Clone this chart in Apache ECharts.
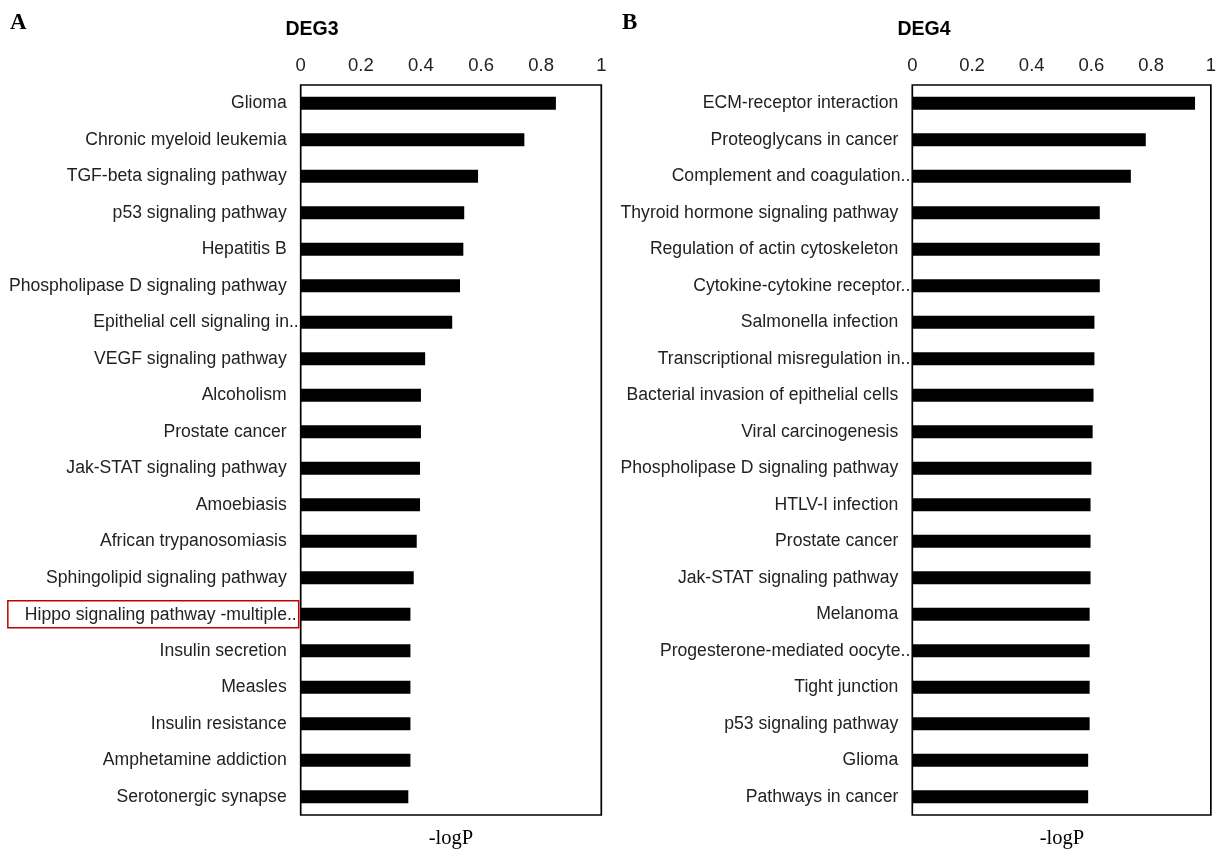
<!DOCTYPE html>
<html>
<head>
<meta charset="utf-8">
<script src="https://cdn.jsdelivr.net/npm/echarts@6/dist/echarts.min.js"></script>
<style>
  html, body { margin: 0; padding: 0; background: #fff; }
  #chart { width: 1219px; height: 853px; }
</style>
</head>
<body>
<div id="chart"></div>
<script>
// KEGG pathway enrichment, -logP per pathway
const catsA = ['Glioma', 'Chronic myeloid leukemia', 'TGF-beta signaling pathway', 'p53 signaling pathway',
  'Hepatitis B', 'Phospholipase D signaling pathway', 'Epithelial cell signaling in..', 'VEGF signaling pathway',
  'Alcoholism', 'Prostate cancer', 'Jak-STAT signaling pathway', 'Amoebiasis', 'African trypanosomiasis',
  'Sphingolipid signaling pathway', 'Hippo signaling pathway -multiple..', 'Insulin secretion', 'Measles',
  'Insulin resistance', 'Amphetamine addiction', 'Serotonergic synapse'];
const valsA = [0.849, 0.744, 0.590, 0.544, 0.541, 0.530, 0.504, 0.414, 0.400, 0.400,
  0.397, 0.397, 0.386, 0.376, 0.365, 0.365, 0.365, 0.365, 0.365, 0.358];

const catsB = ['ECM-receptor interaction', 'Proteoglycans in cancer', 'Complement and coagulation..',
  'Thyroid hormone signaling pathway', 'Regulation of actin cytoskeleton', 'Cytokine-cytokine receptor..',
  'Salmonella infection', 'Transcriptional misregulation in..', 'Bacterial invasion of epithelial cells',
  'Viral carcinogenesis', 'Phospholipase D signaling pathway', 'HTLV-I infection', 'Prostate cancer',
  'Jak-STAT signaling pathway', 'Melanoma', 'Progesterone-mediated oocyte..', 'Tight junction',
  'p53 signaling pathway', 'Glioma', 'Pathways in cancer'];
const valsB = [0.947, 0.782, 0.732, 0.628, 0.628, 0.628, 0.610, 0.610, 0.607, 0.604,
  0.600, 0.597, 0.597, 0.597, 0.594, 0.594, 0.594, 0.594, 0.589, 0.589];

const xTicks = [0, 0.2, 0.4, 0.6, 0.8, 1];
const highlighted = 'Hippo signaling pathway -multiple..';

const SANS = 'Liberation Sans, Arial, sans-serif';
const SERIF = 'Liberation Serif, Times New Roman, serif';
const TXT = '#222';
const LBL = 17.6;
const TICK = 18.5;

const richStyles = {
  n: { fontSize: LBL, fontFamily: SANS, color: TXT, padding: [0, 12, 0, 0] },
  t: { fontSize: LBL, fontFamily: SANS, color: TXT, padding: [0, 0, 0, 0] },
  h: { fontSize: LBL, fontFamily: SANS, color: TXT, lineHeight: 18,
       borderColor: '#c00000', borderWidth: 1.5, padding: [5, 2, 4, 17] }
};

function labelFmt(v) {
  if (v === highlighted) return '{h|' + v + '}';
  if (v.endsWith('..')) return '{t|' + v + '}';
  return '{n|' + v + '}';
}

const grids = [
  { left: 300.7, width: 300.6, top: 85, height: 730 },
  { left: 912.3, width: 300.4, top: 85, height: 730 }
];

function xAxisFor(i) {
  return {
    gridIndex: i, type: 'value', position: 'top', min: 0, max: 1, interval: 0.2,
    axisLine: { show: false }, axisTick: { show: false }, splitLine: { show: false },
    axisLabel: {
      margin: 10, fontSize: TICK, fontFamily: SANS, color: TXT,
      formatter: v => (xTicks.indexOf(Math.round(v * 10) / 10) >= 0 ? String(Math.round(v * 10) / 10) : '')
    }
  };
}

function yAxisFor(i, cats) {
  return {
    gridIndex: i, type: 'category', data: cats, inverse: true,
    axisLine: { show: false }, axisTick: { show: false }, splitLine: { show: false },
    axisLabel: { margin: 2, fontSize: LBL, fontFamily: SANS, color: TXT, interval: 0,
      formatter: labelFmt, rich: richStyles }
  };
}

const chart = echarts.init(document.getElementById('chart'), null, { renderer: 'canvas' });
chart.setOption({
  backgroundColor: '#fff',
  animation: false,
  grid: grids.map(g => Object.assign({ show: true, borderColor: '#000', borderWidth: 1.7, backgroundColor: 'transparent' }, g)),
  xAxis: [xAxisFor(0), xAxisFor(1)],
  yAxis: [yAxisFor(0, catsA), yAxisFor(1, catsB)],
  series: [
    { type: 'bar', xAxisIndex: 0, yAxisIndex: 0, data: valsA, barWidth: 13, itemStyle: { color: '#000' } },
    { type: 'bar', xAxisIndex: 1, yAxisIndex: 1, data: valsB, barWidth: 13, itemStyle: { color: '#000' } }
  ],
  graphic: [
    { type: 'text', x: 10, y: 23, style: { text: 'A', font: 'bold 23px ' + SERIF, fill: '#000', textVerticalAlign: 'middle' } },
    { type: 'text', x: 622, y: 23, style: { text: 'B', font: 'bold 23px ' + SERIF, fill: '#000', textVerticalAlign: 'middle' } },
    { type: 'text', x: 312, y: 30, style: { text: 'DEG3', font: 'bold 19.5px ' + SANS, fill: '#000', textAlign: 'center', textVerticalAlign: 'middle' } },
    { type: 'text', x: 924, y: 30, style: { text: 'DEG4', font: 'bold 19.5px ' + SANS, fill: '#000', textAlign: 'center', textVerticalAlign: 'middle' } },
    { type: 'text', x: 451, y: 839, style: { text: '-logP', font: '20.5px ' + SERIF, fill: '#000', textAlign: 'center', textVerticalAlign: 'middle' } },
    { type: 'text', x: 1062, y: 839, style: { text: '-logP', font: '20.5px ' + SERIF, fill: '#000', textAlign: 'center', textVerticalAlign: 'middle' } }
  ]
});
</script>
</body>
</html>
